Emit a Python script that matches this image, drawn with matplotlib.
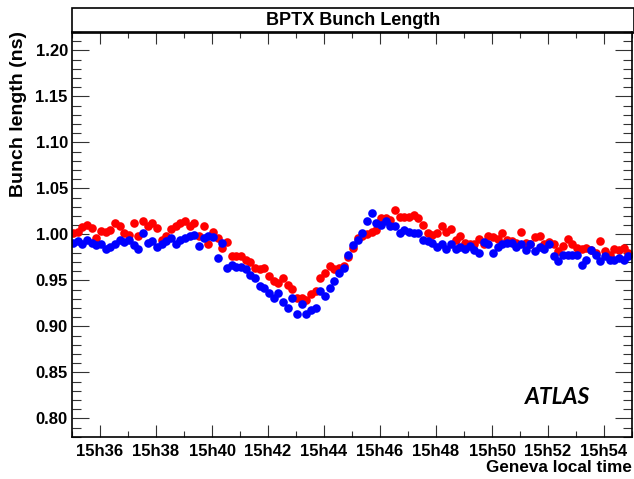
import matplotlib
matplotlib.use("Agg")
import matplotlib.pyplot as plt
import numpy as np
from matplotlib.patches import Rectangle
from matplotlib.ticker import MultipleLocator, FixedLocator, FuncFormatter

plt.rcParams['font.family'] = ['Liberation Sans', 'DejaVu Sans']

# BPTX bunch length, one reading every 10 s starting at 15h35m02s
t_start = 35.0 + 2.0 / 60   # minutes after 15h00
interval = 10.0 / 60        # minutes between readings

beam1 = [
    1.002, 1.003, 1.008, 1.010, 1.007, 0.996, 1.004, 1.003, 1.005, 1.012,
    1.009, 1.001, 0.999, 1.012, 0.998, 1.014, 1.009, 1.012, 1.007, 0.994,
    0.998, 1.006, 1.009, 1.012, 1.014, 1.009, 1.012, 0.998, 1.009, 0.990,
    1.003, 0.996, 0.985, 0.992, 0.976, 0.976, 0.976, 0.972, 0.970, 0.963,
    0.962, 0.963, 0.955, 0.949, 0.947, 0.953, 0.945, 0.941, 0.931, 0.931,
    0.929, 0.935, 0.938, 0.952, 0.958, 0.966, 0.962, 0.963, 0.966, 0.975,
    0.985, 0.996, 0.998, 1.000, 1.003, 1.005, 1.018, 1.018, 1.016, 1.027,
    1.019, 1.019, 1.019, 1.021, 1.018, 1.010, 1.001, 0.999, 1.001, 1.009,
    1.003, 1.006, 0.994, 0.998, 0.991, 0.990, 0.990, 0.995, 0.990, 0.998,
    0.997, 0.995, 1.001, 0.994, 0.993, 0.991, 1.003, 0.991, 0.990, 0.997,
    0.998, 0.990, 0.992, 0.990, 0.982, 0.987, 0.995, 0.990, 0.985, 0.984,
    0.985, 0.983, 0.980, 0.993, 0.982, 0.978, 0.984, 0.983, 0.985, 0.980,
]

beam2 = [
    0.991, 0.993, 0.990, 0.994, 0.991, 0.988, 0.989, 0.984, 0.986, 0.989,
    0.994, 0.992, 0.994, 0.988, 0.984, 1.001, 0.991, 0.993, 0.986, 0.989,
    0.993, 0.996, 0.990, 0.994, 0.996, 0.998, 0.999, 0.987, 0.996, 0.998,
    0.997, 0.974, 0.991, 0.963, 0.967, 0.965, 0.965, 0.962, 0.956, 0.953,
    0.944, 0.942, 0.936, 0.931, 0.936, 0.926, 0.920, 0.931, 0.913, 0.924,
    0.913, 0.918, 0.920, 0.938, 0.933, 0.942, 0.949, 0.958, 0.963, 0.978,
    0.988, 0.994, 1.002, 1.014, 1.023, 1.012, 1.010, 1.014, 1.009, 1.009,
    1.001, 1.005, 1.003, 1.001, 1.001, 0.994, 0.993, 0.991, 0.986, 0.989,
    0.984, 0.990, 0.984, 0.986, 0.984, 0.987, 0.983, 0.980, 0.992, 0.989,
    0.980, 0.986, 0.990, 0.991, 0.991, 0.986, 0.990, 0.983, 0.989, 0.982,
    0.986, 0.984, 0.990, 0.976, 0.971, 0.978, 0.978, 0.978, 0.978, 0.967,
    0.972, 0.983, 0.978, 0.971, 0.976, 0.972, 0.972, 0.974, 0.972, 0.977,
]

tick_minutes = [36, 38, 40, 42, 44, 46, 48, 50, 52, 54]

times1 = t_start + interval * np.arange(len(beam1))
times2 = t_start + interval * np.arange(len(beam2))

fig = plt.figure(figsize=(6.34, 4.79), dpi=100)
ax = fig.add_axes([72 / 634, 1 - 436.7 / 479, 560 / 634, 404.7 / 479])

ax.plot(times1, beam1, 'o', color='#ff0000', markersize=6.2, markeredgewidth=0)
ax.plot(times2, beam2, 'o', color='#0000ff', markersize=6.2, markeredgewidth=0)

ax.set_xlim(35, 55)
ax.set_ylim(0.78, 1.22)

ax.xaxis.set_major_locator(FixedLocator(tick_minutes))
ax.xaxis.set_minor_locator(MultipleLocator(1))
ax.xaxis.set_major_formatter(FuncFormatter(lambda v, p: "15h%02d" % v))
ax.yaxis.set_major_locator(MultipleLocator(0.05))
ax.yaxis.set_minor_locator(MultipleLocator(0.01))
ax.yaxis.set_major_formatter(FuncFormatter(lambda v, p: "%.2f" % v))

ax.tick_params(axis='both', which='both', direction='in', top=True, right=True,
               width=0.8, color='#333333')
ax.tick_params(axis='x', which='major', length=8.8, pad=5, labelsize=12)
ax.tick_params(axis='x', which='minor', length=4.3)
ax.tick_params(axis='y', which='major', length=12, pad=3, labelsize=12)
ax.tick_params(axis='y', which='minor', length=6.2)
for lab in ax.get_xticklabels() + ax.get_yticklabels():
    lab.set_fontweight('bold')
for sp in ax.spines.values():
    sp.set_linewidth(1.2)

# title pave above the frame
fig.patches.append(Rectangle((72 / 634, 1 - 32.5 / 479), 562 / 634, 24.5 / 479,
                             transform=fig.transFigure, fill=False,
                             edgecolor='black', linewidth=1.2))
fig.text(353 / 634, 1 - 20.5 / 479, "BPTX Bunch Length", ha='center', va='center',
         fontsize=13, fontweight='bold')

fig.text(18.5 / 634, 1 - 31 / 479, "Bunch length (ns)", rotation=90,
         ha='center', va='top', fontsize=14, fontweight='bold')
fig.text(632 / 634, 1 - 468 / 479, "Geneva local time", ha='right', va='center',
         fontsize=12.3, fontweight='bold')
fig.text(590 / 634, 1 - 397 / 479, "ATLAS", ha='right', va='center',
         fontsize=16.5, fontweight='bold', style='italic',
         family=['Lato', 'Liberation Sans'])

fig.savefig("out.png", dpi=100)
